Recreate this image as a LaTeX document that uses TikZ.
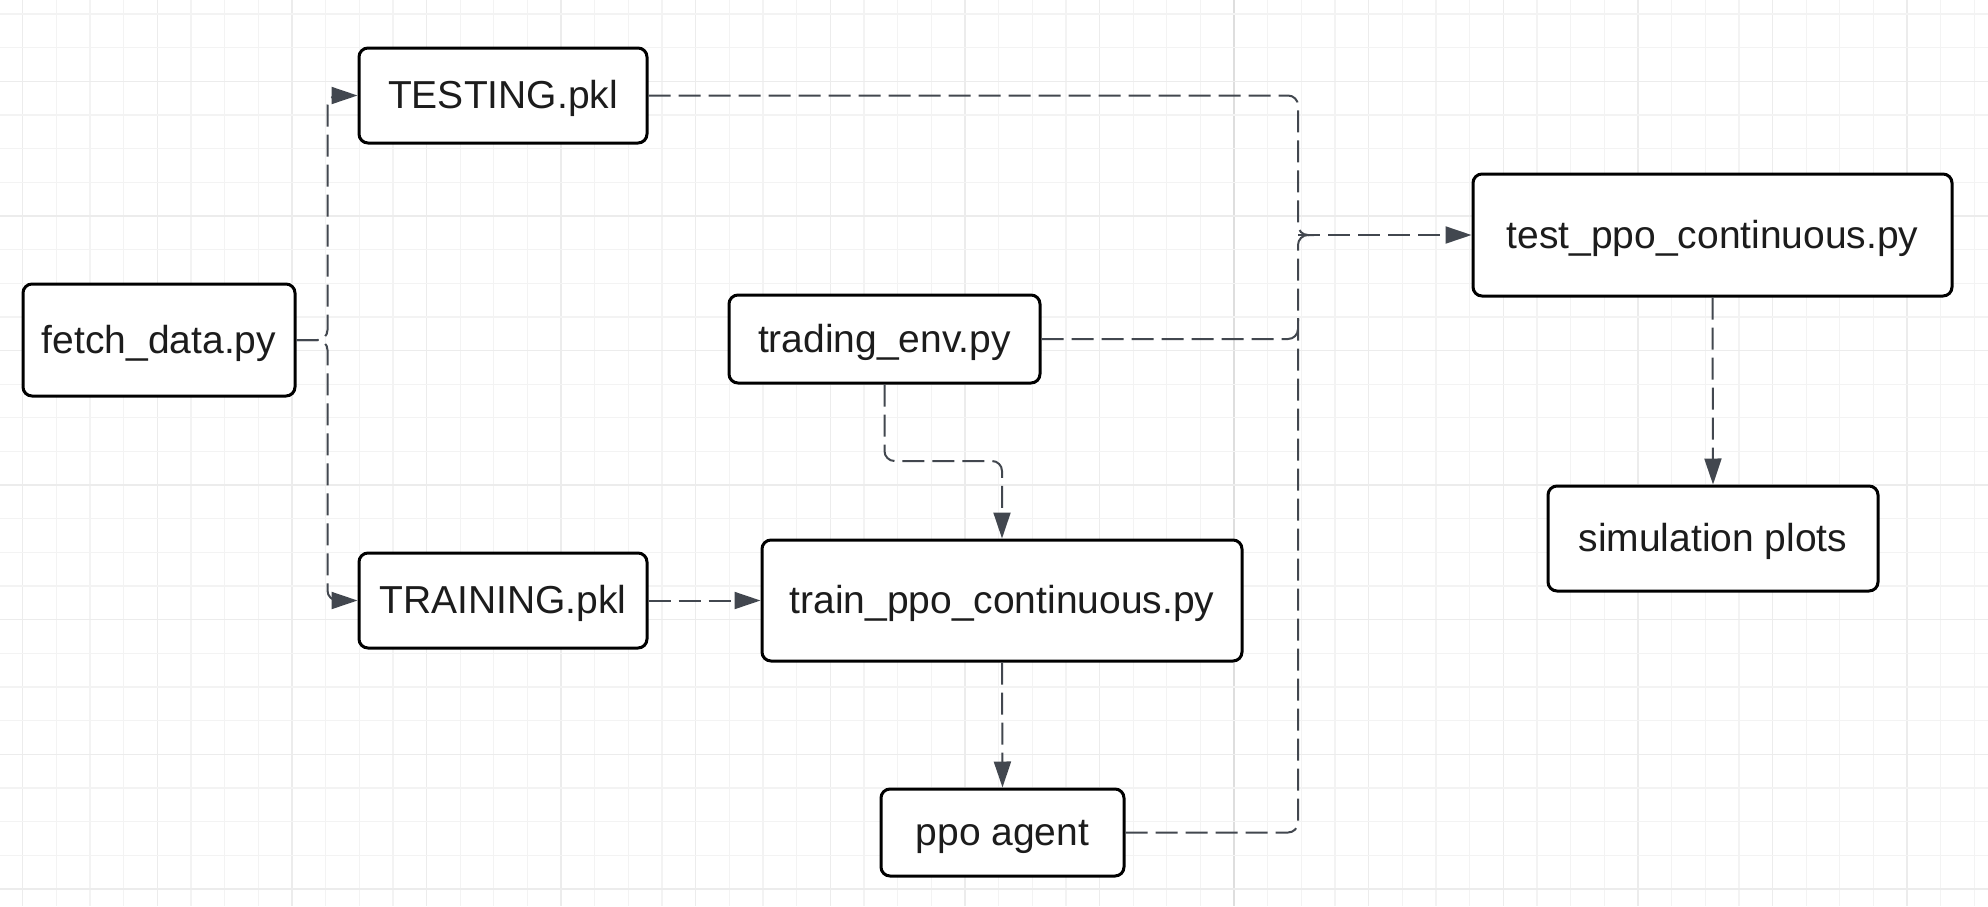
\documentclass[tikz,border=0pt]{standalone}
\usepackage{fontspec}
\setmainfont{Liberation Sans}
\usetikzlibrary{arrows.meta}
\definecolor{gridminor}{HTML}{F3F3F3}
\definecolor{gridmajor}{HTML}{ECECEC}
\definecolor{gridaxis}{HTML}{DEDEDE}
\definecolor{edge}{HTML}{42474F}
\definecolor{txt}{HTML}{1C1C1C}
\begin{document}
\begin{tikzpicture}[x=1pt,y=-1pt,
  box/.style={draw=black, line width=3pt, rounded corners=9pt, fill=white, text=txt,
    font=\fontsize{39}{45}\selectfont, inner sep=0pt, anchor=center,
    text height=33pt, text depth=7pt},
  conn/.style={draw=edge, line width=2pt, dash pattern=on 22pt off 8pt, rounded corners=10pt},
  tip/.style={-{Triangle[length=26pt,width=17pt]}}]
\fill[white] (0,0) rectangle (1988,906);
\useasboundingbox (0,0) rectangle (1988,906);
% grid
\foreach \k in {0,...,58}{
  \pgfmathsetmacro\gx{22.7+\k*33.65}
  \pgfmathtruncatemacro\m{mod(\k,4)}
  \ifnum\k=36 \def\gc{gridaxis}\else\ifnum\m=0 \def\gc{gridmajor}\else\def\gc{gridminor}\fi\fi
  \draw[\gc, line width=1.3pt] (\gx,0) -- (\gx,906);
}
\foreach \j in {0,...,26}{
  \pgfmathsetmacro\gy{14+\j*33.65}
  \pgfmathtruncatemacro\m{mod(\j,4)}
  \ifnum\m=2 \def\gc{gridmajor}\else\def\gc{gridminor}\fi
  \draw[\gc, line width=1.3pt] (0,\gy) -- (1988,\gy);
}
% nodes
\node[box, minimum width=272pt, minimum height=112pt] (fetch) at (159,340) {fetch\_data.py};
\node[box, minimum width=288pt, minimum height=95pt] (testing) at (503,95.5) {TESTING.pkl};
\node[box, minimum width=288pt, minimum height=95pt] (training) at (503,600.5) {TRAINING.pkl};
\node[box, minimum width=311pt, minimum height=88pt] (trading) at (884.5,339) {trading\_env.py};
\node[box, minimum width=480pt, minimum height=121pt] (train) at (1002,600.5) {train\_ppo\_continuous.py};
\node[box, minimum width=243pt, minimum height=87pt] (ppo) at (1002.5,832.5) {ppo agent};
\node[box, minimum width=479pt, minimum height=122pt] (test) at (1712.5,235) {test\_ppo\_continuous.py};
\node[box, minimum width=330pt, minimum height=105pt] (sim) at (1713,538.5) {simulation plots};
% junction points
\coordinate (jl) at (327.5,340);
\coordinate (jr) at (1298,235);
\coordinate (jr2) at (1314,235);
\coordinate (jt) at (1298,318);
\coordinate (tb) at (1002,461);
% connectors
\draw[conn,tip] (fetch.east) -- (jl) |- (testing.west);
\draw[conn,tip] (fetch.east) -- (jl) |- (training.west);
\draw[conn] (testing.east) -| (jr) -- (jr2);
\draw[conn] (ppo.east) -| (jr) -- (jr2);
\draw[conn] (trading.east) -| (jt);
\draw[conn,tip] (jr) -- (test.west);
\draw[conn,tip] (trading.south) |- (tb) -- (train.north);
\draw[conn,tip] (training.east) -- (train.west);
\draw[conn,tip] (train.south) -- (ppo.north);
\draw[conn,tip] (test.south) -- (sim.north);
\end{tikzpicture}
\end{document}
